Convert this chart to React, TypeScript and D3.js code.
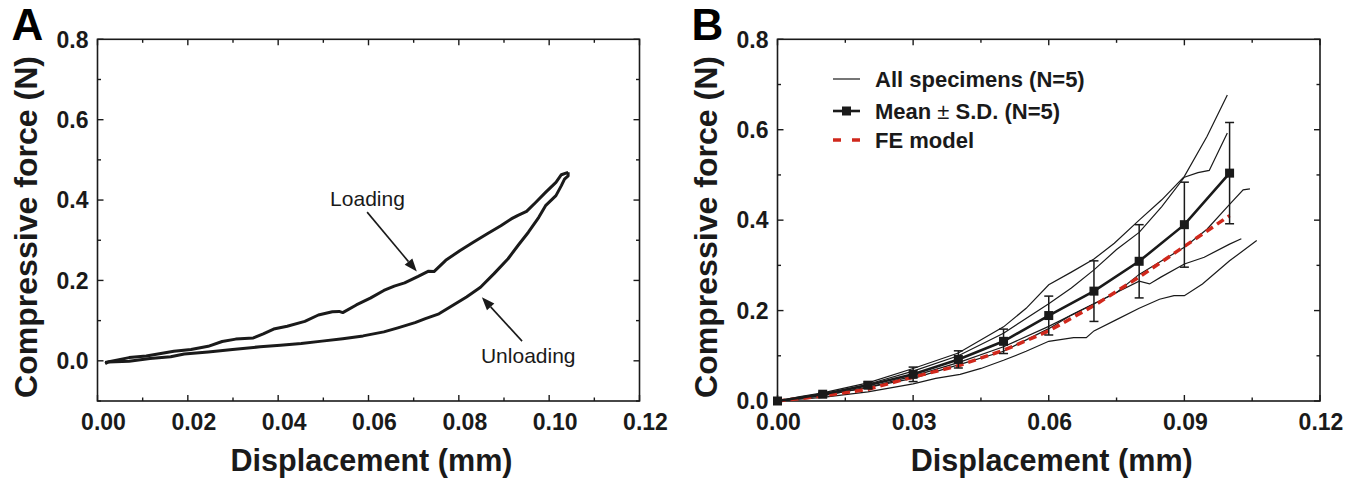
import React from 'react';
import * as d3 from 'd3';

type Pt = [number, number];

// Panel A: one loading/unloading cycle (displacement mm, force N)
const loadingCurve: Pt[] = [
  [0.0017, -0.004], [0.007, 0.008], [0.0108, 0.012], [0.0169, 0.024], [0.0207, 0.028],
  [0.0245, 0.036], [0.0276, 0.048], [0.0306, 0.054], [0.0345, 0.057], [0.0367, 0.067],
  [0.039, 0.079], [0.042, 0.086], [0.0459, 0.098], [0.0489, 0.114], [0.052, 0.122],
  [0.0535, 0.123], [0.0543, 0.12], [0.0573, 0.139], [0.0604, 0.156], [0.0634, 0.175],
  [0.0657, 0.186], [0.068, 0.194], [0.071, 0.21], [0.0733, 0.223], [0.0745, 0.222],
  [0.0771, 0.25], [0.0802, 0.274], [0.0832, 0.295], [0.0863, 0.316], [0.0893, 0.336],
  [0.0916, 0.353], [0.0931, 0.362], [0.095, 0.372], [0.097, 0.394], [0.0992, 0.419],
  [0.1015, 0.444], [0.1027, 0.463], [0.1042, 0.469],
];

const unloadingCurve: Pt[] = [
  [0.1042, 0.469], [0.1042, 0.46], [0.1034, 0.452], [0.1027, 0.436], [0.1015, 0.411],
  [0.0992, 0.386], [0.0977, 0.357], [0.0954, 0.32], [0.0931, 0.287], [0.0909, 0.254],
  [0.0878, 0.217], [0.0848, 0.183], [0.0817, 0.159], [0.0787, 0.138], [0.0756, 0.117],
  [0.0726, 0.105], [0.0703, 0.095], [0.0665, 0.082], [0.0634, 0.072], [0.0588, 0.062],
  [0.0543, 0.055], [0.0497, 0.049], [0.0451, 0.043], [0.0405, 0.039], [0.036, 0.035],
  [0.0299, 0.028], [0.0245, 0.022], [0.0192, 0.017], [0.0162, 0.01], [0.0116, 0.006],
  [0.007, -0.001], [0.0024, -0.003], [0.0017, -0.007],
];

// Panel B: individual specimens
const specimen1: Pt[] = [
  [0, 0], [0.005, 0.01], [0.01, 0.018], [0.02, 0.04], [0.03, 0.072], [0.04, 0.106],
  [0.05, 0.164], [0.055, 0.205], [0.06, 0.257], [0.065, 0.285], [0.07, 0.314],
  [0.0745, 0.349], [0.08, 0.4], [0.085, 0.445], [0.09, 0.497], [0.095, 0.585], [0.0995, 0.677],
];
const specimen2: Pt[] = [
  [0, 0], [0.01, 0.015], [0.02, 0.037], [0.03, 0.066], [0.04, 0.1], [0.05, 0.15],
  [0.06, 0.215], [0.065, 0.25], [0.07, 0.29], [0.075, 0.335], [0.08, 0.373],
  [0.085, 0.43], [0.09, 0.495], [0.093, 0.505], [0.0955, 0.51], [0.0995, 0.593],
];
const specimen3: Pt[] = [
  [0, 0], [0.01, 0.012], [0.02, 0.03], [0.03, 0.055], [0.04, 0.085], [0.05, 0.12],
  [0.06, 0.165], [0.07, 0.215], [0.075, 0.24], [0.08, 0.28], [0.085, 0.31],
  [0.09, 0.34], [0.095, 0.38], [0.1, 0.435], [0.103, 0.467], [0.1045, 0.469],
];
const specimen4: Pt[] = [
  [0, 0], [0.01, 0.012], [0.02, 0.03], [0.03, 0.05], [0.04, 0.08], [0.05, 0.11],
  [0.06, 0.16], [0.065, 0.19], [0.07, 0.215], [0.08, 0.265], [0.0823, 0.259],
  [0.0848, 0.274], [0.09, 0.303], [0.0944, 0.318], [0.1, 0.347], [0.1026, 0.359],
];
const specimen5: Pt[] = [
  [0, 0], [0.01, 0.008], [0.02, 0.02], [0.03, 0.038], [0.035, 0.05], [0.0404, 0.059],
  [0.045, 0.072], [0.05, 0.09], [0.055, 0.11], [0.06, 0.132], [0.0655, 0.14],
  [0.0683, 0.14], [0.07, 0.155], [0.075, 0.18], [0.08, 0.205], [0.0845, 0.225],
  [0.0877, 0.233], [0.09, 0.233], [0.094, 0.259], [0.1, 0.31], [0.106, 0.355],
];
const specimens = [specimen1, specimen2, specimen3, specimen4, specimen5];

const meanDisp = [0, 0.01, 0.02, 0.03, 0.04, 0.05, 0.06, 0.07, 0.08, 0.09, 0.1];
const meanForce = [0, 0.015, 0.035, 0.059, 0.092, 0.132, 0.189, 0.243, 0.309, 0.39, 0.504];
const sdForce = [0, 0.004, 0.007, 0.016, 0.019, 0.027, 0.043, 0.067, 0.081, 0.094, 0.112];

const feDisp = [0, 0.01, 0.02, 0.03, 0.04, 0.05, 0.06, 0.07, 0.08, 0.09, 0.1];
const feForce = [0, 0.011, 0.026, 0.053, 0.078, 0.112, 0.155, 0.211, 0.274, 0.342, 0.41];

const xTicksA = [0, 0.02, 0.04, 0.06, 0.08, 0.1, 0.12];
const xTicksB = [0, 0.03, 0.06, 0.09, 0.12];
const yTicks = [0, 0.2, 0.4, 0.6, 0.8];

const FONT = '"Liberation Sans", Arial, Helvetica, sans-serif';
const INK = '#1a1a1a';
const RED = '#d0281c';

type Scale = d3.ScaleLinear<number, number>;

function Frame({ x, y, xTicks, xStep, yStep, letter, labelDx }: {
  x: Scale; y: Scale; xTicks: number[]; xStep: number; yStep: number;
  letter: string; labelDx: number;
}) {
  const [x0, x1] = x.range();
  const [y0, y1] = y.range(); // y0 bottom, y1 top
  const [dx0, dx1] = x.domain();
  const [dy0, dy1] = y.domain();
  const xMinor = d3.range(dx0, dx1 + 1e-9, xStep);
  const yMinor = d3.range(dy0, dy1 + 1e-9, yStep);
  const maj = 6;
  const min = 3.5;
  const isMajorX = (v: number) => xTicks.some(t => Math.abs(t - v) < 1e-9);
  const isMajorY = (v: number) => yTicks.some(t => Math.abs(t - v) < 1e-9);
  const fx = d3.format('.2f');
  const fy = d3.format('.1f');
  return (
    <g>
      <rect x={x0} y={y1} width={x1 - x0} height={y0 - y1} fill="none" stroke={INK} strokeWidth={1.6} />
      {xMinor.map((v, i) => {
        const L = isMajorX(v) ? maj : min;
        const px = x(v);
        return (
          <g key={'xt' + i}>
            <line x1={px} x2={px} y1={y0} y2={y0 - L} stroke={INK} strokeWidth={1.4} />
            <line x1={px} x2={px} y1={y1} y2={y1 + L} stroke={INK} strokeWidth={1.4} />
          </g>
        );
      })}
      {yMinor.map((v, i) => {
        const L = isMajorY(v) ? maj : min;
        const py = y(v);
        return (
          <g key={'yt' + i}>
            <line x1={x0} x2={x0 + L} y1={py} y2={py} stroke={INK} strokeWidth={1.4} />
            <line x1={x1} x2={x1 - L} y1={py} y2={py} stroke={INK} strokeWidth={1.4} />
          </g>
        );
      })}
      {xTicks.map((v, i) => (
        <text key={'xl' + i} x={x(v) + labelDx} y={430} textAnchor="middle"
          fontFamily={FONT} fontWeight="bold" fontSize={23} fill={INK}>{fx(v)}</text>
      ))}
      {yTicks.map((v, i) => (
        <text key={'yl' + i} x={x0 - 9} y={y(v)} dy="0.36em" textAnchor="end"
          fontFamily={FONT} fontWeight="bold" fontSize={23} fill={INK}>{fy(v)}</text>
      ))}
      <text x={(x0 + x1) / 2 + 3} y={471} textAnchor="middle" fontFamily={FONT}
        fontWeight="bold" fontSize={32} textLength={282} lengthAdjust="spacingAndGlyphs"
        fill={INK}>Displacement (mm)</text>
      <text transform={`translate(${x0 - 61},227) rotate(-90)`} textAnchor="middle"
        fontFamily={FONT} fontWeight="bold" fontSize={32} textLength={342}
        lengthAdjust="spacingAndGlyphs" fill={INK}>Compressive force (N)</text>
      <text x={x0 - 86} y={40} fontFamily={FONT} fontWeight="bold" fontSize={44} fill="#000">{letter}</text>
    </g>
  );
}

function Arrow({ from, to }: { from: Pt; to: Pt }) {
  const [ax, ay] = from;
  const [bx, by] = to;
  const ang = Math.atan2(by - ay, bx - ax);
  const hl = 13;
  const hw = 5;
  const baseX = bx - hl * Math.cos(ang);
  const baseY = by - hl * Math.sin(ang);
  const nx = -Math.sin(ang) * hw;
  const ny = Math.cos(ang) * hw;
  return (
    <g>
      <line x1={ax} y1={ay} x2={baseX} y2={baseY} stroke={INK} strokeWidth={1.6} />
      <path d={`M${bx},${by}L${baseX + nx},${baseY + ny}L${baseX - nx},${baseY - ny}Z`} fill={INK} />
    </g>
  );
}

function PanelA() {
  const x = d3.scaleLinear().domain([0, 0.12]).range([97.5, 639.5]);
  const y = d3.scaleLinear().domain([-0.1, 0.8]).range([401, 39.3]);
  const line = d3.line<Pt>().x(d => x(d[0])).y(d => y(d[1]));
  return (
    <g>
      <Frame x={x} y={y} xTicks={xTicksA} xStep={0.01} yStep={0.1} letter="A" labelDx={6} />
      <path d={line(loadingCurve) || ''} fill="none" stroke={INK} strokeWidth={3} strokeLinejoin="round" />
      <path d={line(unloadingCurve) || ''} fill="none" stroke={INK} strokeWidth={3} strokeLinejoin="round" />
      <text x={x(0.0515)} y={y(0.405)} dy="0.36em" fontFamily={FONT} fontSize={21} fill={INK}>Loading</text>
      <Arrow from={[x(0.0597), y(0.37)]} to={[x(0.0707), y(0.222)]} />
      <text x={x(0.0849)} y={y(0.014)} dy="0.36em" fontFamily={FONT} fontSize={21} fill={INK}>Unloading</text>
      <Arrow from={[x(0.094), y(0.049)]} to={[x(0.0851), y(0.158)]} />
    </g>
  );
}

function PanelB() {
  const x = d3.scaleLinear().domain([0, 0.12]).range([777.5, 1320]);
  const y = d3.scaleLinear().domain([0, 0.8]).range([401, 39.3]);
  const line = d3.line<Pt>().x(d => x(d[0])).y(d => y(d[1]));
  const meanPts: Pt[] = meanDisp.map((d, i) => [d, meanForce[i]]);
  const fePts: Pt[] = feDisp.map((d, i) => [d, feForce[i]]);
  const sq = 9;
  return (
    <g>
      <Frame x={x} y={y} xTicks={xTicksB} xStep={0.015} yStep={0.1} letter="B" labelDx={1} />
      {specimens.map((s, i) => (
        <path key={i} d={line(s) || ''} fill="none" stroke={INK} strokeWidth={1.2} />
      ))}
      <path d={line(fePts) || ''} fill="none" stroke={RED} strokeWidth={3.5} strokeDasharray="8 5" />
      <path d={line(meanPts) || ''} fill="none" stroke={INK} strokeWidth={2.6} />
      {meanPts.map(([d, f], i) => {
        const sd = sdForce[i];
        const px = x(d);
        return (
          <g key={i}>
            {sd > 0 && (
              <g stroke={INK} strokeWidth={1.5}>
                <line x1={px} x2={px} y1={y(f + sd)} y2={y(f - sd)} />
                <line x1={px - 4.5} x2={px + 4.5} y1={y(f + sd)} y2={y(f + sd)} />
                <line x1={px - 4.5} x2={px + 4.5} y1={y(f - sd)} y2={y(f - sd)} />
              </g>
            )}
            <rect x={px - sq / 2} y={y(f) - sq / 2} width={sq} height={sq} fill={INK} />
          </g>
        );
      })}
      {/* legend */}
      <g fontFamily={FONT} fontWeight="bold" fontSize={22} fill={INK}>
        <line x1={833} x2={860} y1={79} y2={79} stroke={INK} strokeWidth={1.2} />
        <text x={875} y={79} dy="0.36em">All specimens (N=5)</text>
        <line x1={833} x2={860} y1={111} y2={111} stroke={INK} strokeWidth={2.6} />
        <rect x={842} y={106.5} width={9} height={9} fill={INK} />
        <text x={875} y={111} dy="0.36em">Mean <tspan fontWeight="normal">±</tspan> S.D. (N=5)</text>
        <line x1={833} x2={860} y1={140} y2={140} stroke={RED} strokeWidth={3.5} strokeDasharray="8 11" />
        <text x={875} y={140} dy="0.36em">FE model</text>
      </g>
    </g>
  );
}

export default function App() {
  return (
    <svg width={1364} height={485} style={{ position: 'absolute', left: 0, top: 0, display: 'block', background: '#fff' }}>
      <rect width={1364} height={485} fill="#fff" />
      <PanelA />
      <PanelB />
    </svg>
  );
}
